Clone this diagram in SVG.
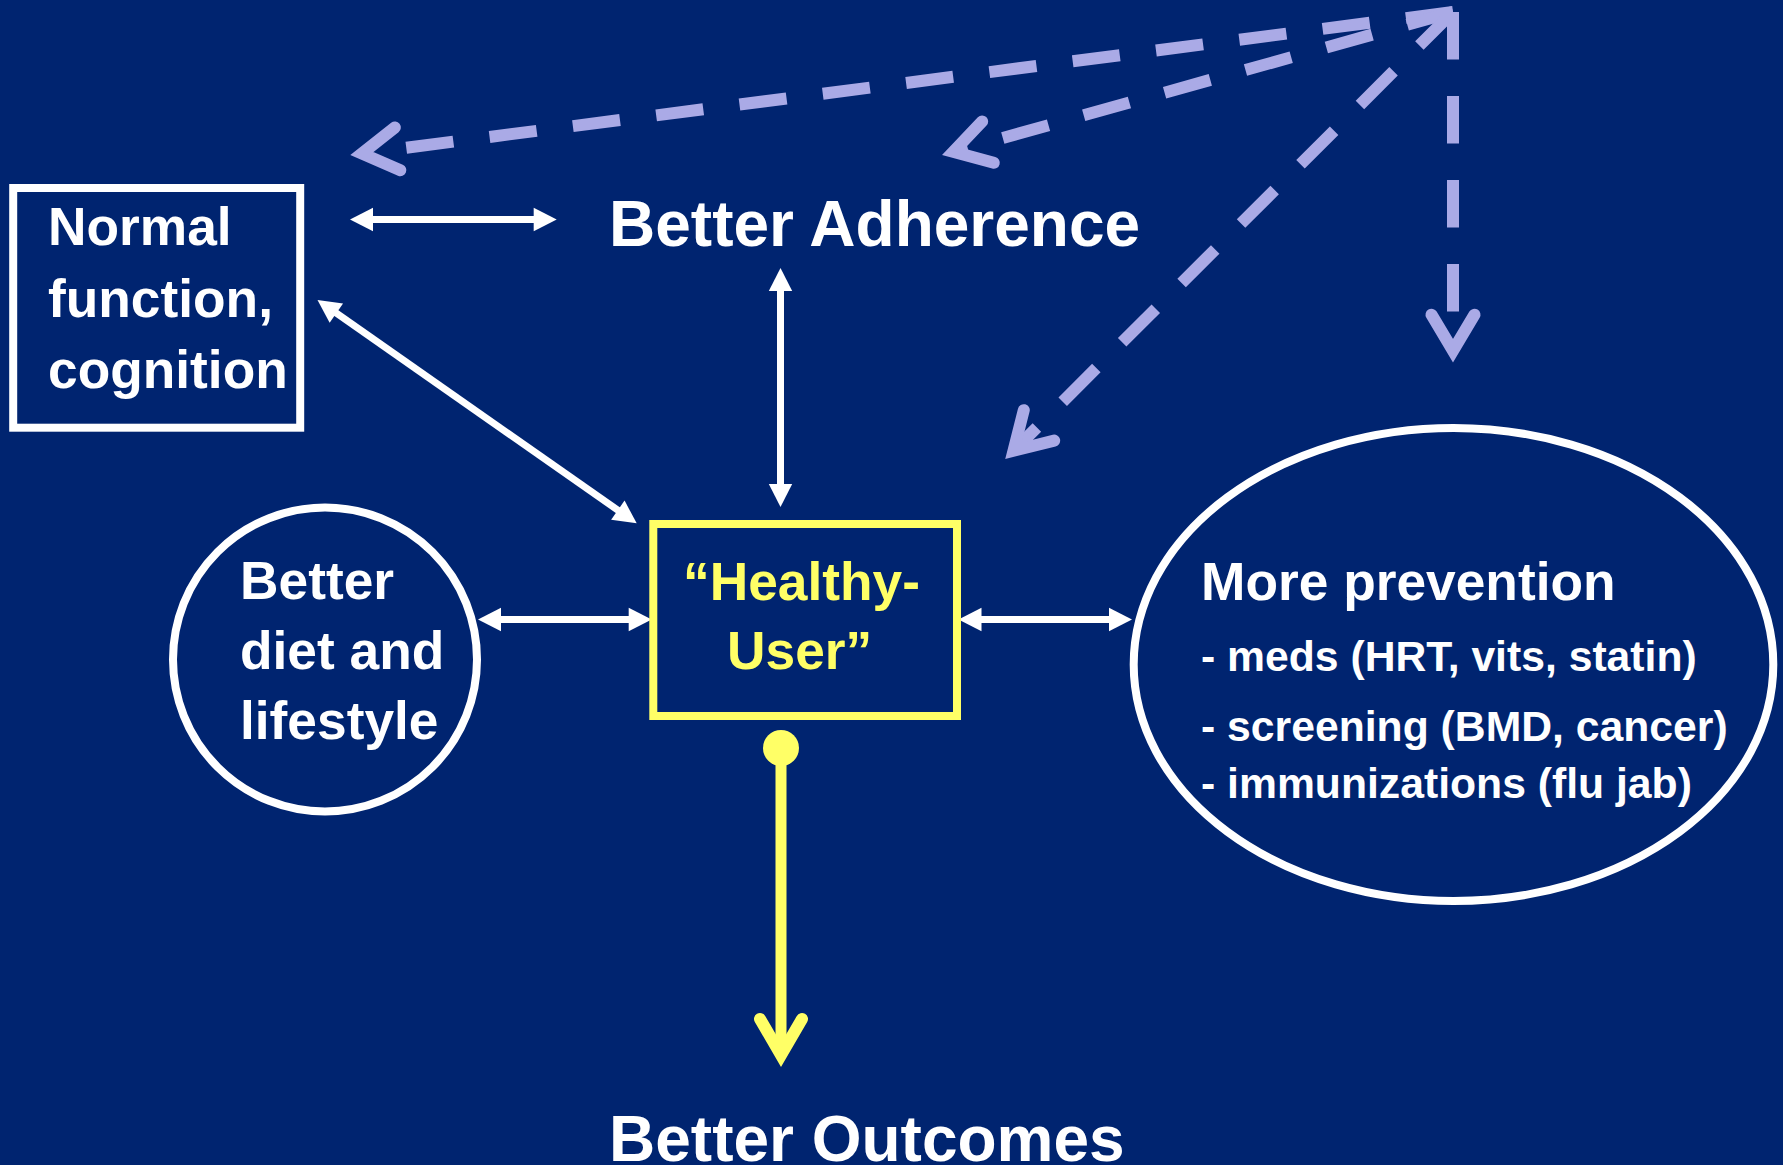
<svg xmlns="http://www.w3.org/2000/svg" width="1783" height="1165" viewBox="0 0 1783 1165">
  <style>
    .lbl { font-family: "Liberation Sans", Arial, Helvetica, sans-serif; font-weight: bold; fill: #ffffff; }
    .big { font-size: 64px; }
    .mid { font-size: 53.3px; }
    .sm { font-size: 42.7px; }
    .yel { fill: #ffff66; }
    .frame { fill: none; stroke: #ffffff; stroke-width: 8; }
    .wline { fill: none; stroke: #ffffff; stroke-width: 7; }
    .dash { fill: none; stroke: #aaaae6; stroke-width: 12; stroke-dasharray: 47.5 36.5; marker-end: url(#chev); }
  </style>
  <defs>
    <!-- solid white triangular head, tip sits 10px past the path end -->
    <marker id="tri" markerUnits="userSpaceOnUse" viewBox="0 -12 24 24" markerWidth="24" markerHeight="24" refX="13" refY="0" orient="auto-start-reverse" overflow="visible">
      <path d="M0,-11.7 L23,0 L0,11.7 Z" fill="#ffffff"/>
    </marker>
    <!-- open lavender chevron, vertex at the path end -->
    <marker id="chev" markerUnits="userSpaceOnUse" viewBox="-40 -26 60 52" markerWidth="60" markerHeight="52" refX="0" refY="0" orient="auto" overflow="visible">
      <polyline points="-36,-21.5 0,0 -36,21.5" fill="none" stroke="#aaaae6" stroke-width="12" stroke-linecap="round" stroke-linejoin="miter" stroke-miterlimit="6"/>
    </marker>
  </defs>

  <rect x="0" y="0" width="1783" height="1165" fill="#002470"/>

  <!-- connectors -->
  <g id="connectors">
    <!-- dashed links fanning out from the top right -->
    <path class="dash" d="M1453,12 L361.9,153.5"/>
    <path class="dash" d="M1453,12 L953.3,151.8"/>
    <path class="dash" d="M1453,12 L1013.5,450.8"/>
    <path class="dash" d="M1453,12 L1453,350.7"/>

    <!-- white two-way arrows -->
    <path class="wline" d="M360,219.5 L546.7,219.5" marker-start="url(#tri)" marker-end="url(#tri)"/>
    <path class="wline" d="M325.7,305.7 L628.5,517.6" marker-start="url(#tri)" marker-end="url(#tri)"/>
    <path class="wline" d="M780.5,278 L780.5,497" marker-start="url(#tri)" marker-end="url(#tri)"/>
    <path class="wline" d="M488,619.5 L641.7,619.5" marker-start="url(#tri)" marker-end="url(#tri)"/>
    <path class="wline" d="M968.5,619.5 L1122,619.5" marker-start="url(#tri)" marker-end="url(#tri)"/>

    <!-- yellow outcome arrow -->
    <g id="outcome-arrow">
      <circle cx="781" cy="748" r="18" fill="#ffff66"/>
      <line x1="781" y1="748" x2="781" y2="1050" stroke="#ffff66" stroke-width="11"/>
      <polyline points="760,1019 781,1055 802,1019" fill="none" stroke="#ffff66" stroke-width="12" stroke-linecap="round" stroke-linejoin="miter" stroke-miterlimit="6"/>
    </g>
  </g>

  <!-- nodes -->
  <g id="normal-function">
    <rect class="frame" x="13.2" y="188" width="287" height="239.7"/>
    <text class="lbl mid" x="48" y="245">Normal</text>
    <text class="lbl mid" x="48" y="316.5">function,</text>
    <text class="lbl mid" x="48" y="387.5">cognition</text>
  </g>

  <g id="better-adherence">
    <text class="lbl big" x="609" y="245.5">Better Adherence</text>
  </g>

  <g id="diet-lifestyle">
    <circle class="frame" cx="325" cy="659.5" r="152"/>
    <text class="lbl mid" x="240" y="599">Better</text>
    <text class="lbl mid" x="240" y="669">diet and</text>
    <text class="lbl mid" x="240" y="739">lifestyle</text>
  </g>

  <g id="healthy-user">
    <rect x="653.3" y="524" width="303.7" height="192" fill="none" stroke="#ffff66" stroke-width="8"/>
    <text class="lbl mid yel" x="683" y="600">“Healthy-</text>
    <text class="lbl mid yel" x="727" y="668.5">User”</text>
  </g>

  <g id="more-prevention">
    <ellipse class="frame" cx="1453.5" cy="664.5" rx="319.8" ry="236.5"/>
    <text class="lbl mid" x="1201" y="600">More prevention</text>
    <text class="lbl sm" x="1201" y="670.5">- meds (HRT, vits, statin)</text>
    <text class="lbl sm" x="1201" y="741">- screening (BMD, cancer)</text>
    <text class="lbl sm" x="1201" y="798">- immunizations (flu jab)</text>
  </g>

  <g id="better-outcomes">
    <text class="lbl big" x="609" y="1161">Better Outcomes</text>
  </g>
</svg>
